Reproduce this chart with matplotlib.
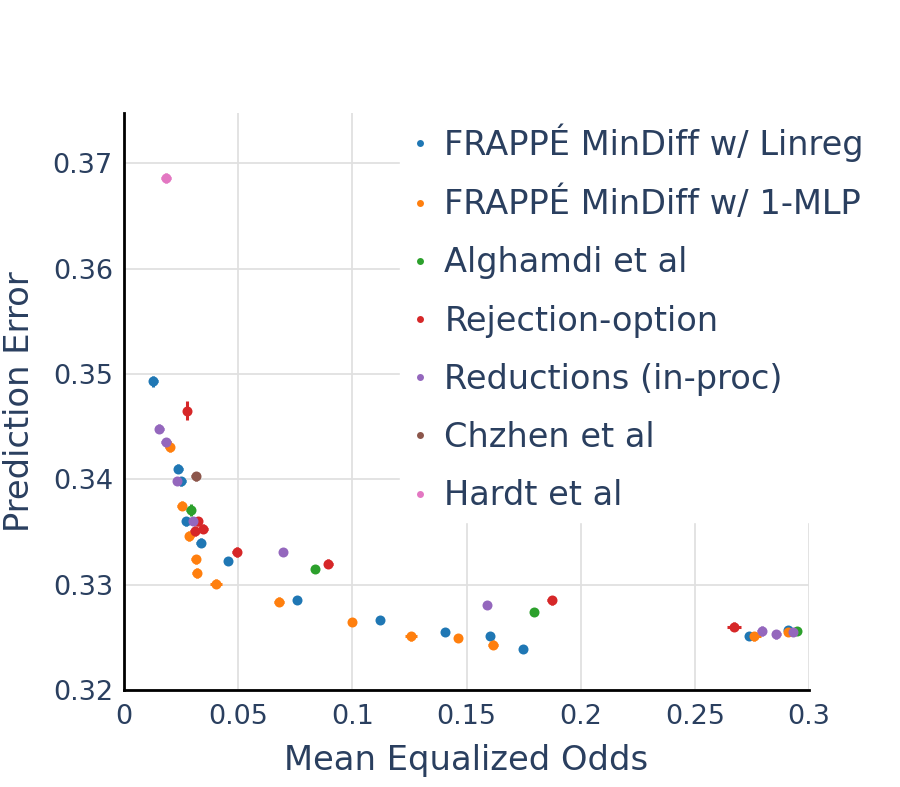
import matplotlib
matplotlib.use("Agg")
import matplotlib.pyplot as plt
from matplotlib.lines import Line2D

# ── Data ──────────────────────────────────────────────────────────────────────
labels = ["FRAPPÉ MinDiff w/ Linreg", "FRAPPÉ MinDiff w/ 1-MLP", "Alghamdi et al",
          "Rejection-option", "Reductions (in-proc)", "Chzhen et al", "Hardt et al"]
colors = ["#1f77b4", "#ff7f0e", "#2ca02c", "#d62728", "#9467bd", "#8c564b", "#e377c2"]

linreg_x = [0.0128, 0.0237, 0.0250, 0.0272, 0.0336, 0.0457, 0.0756, 0.1123, 0.1405,
            0.1603, 0.1749, 0.2739, 0.2910]
linreg_y = [0.3493, 0.3410, 0.3398, 0.3360, 0.3340, 0.3322, 0.3285, 0.3266, 0.3255,
            0.3251, 0.3239, 0.3251, 0.3257]
linreg_xerr = [0.0020, 0.0020, 0.0020, 0.0020, 0.0020, 0, 0, 0, 0, 0, 0, 0, 0]
linreg_yerr = [0.0005, 0.00044, 0.00044, 0.00044, 0.00044, 0, 0, 0, 0, 0, 0, 0, 0]

mlp_x = [0.0201, 0.0253, 0.0286, 0.0315, 0.0318, 0.0402, 0.0679, 0.1000, 0.1257,
         0.1462, 0.1616, 0.2760, 0.2910]
mlp_y = [0.3431, 0.3375, 0.3346, 0.3324, 0.3311, 0.3301, 0.3284, 0.3265, 0.3251,
         0.3249, 0.3243, 0.3251, 0.3255]
mlp_xerr = [0.0020, 0.0020, 0.0020, 0.0020, 0.0019, 0.0026, 0.0020, 0, 0.0027,
            0, 0.0020, 0.0031, 0]
mlp_yerr = [0.0005, 0.00044, 0.0005, 0.00044, 0.00044, 0.00044, 0.00044, 0, 0.00044,
            0, 0.00044, 0.00044, 0]

alg_x = [0.0292, 0.0837, 0.1797, 0.2946]
alg_y = [0.3371, 0.3315, 0.3274, 0.3256]
alg_xerr = [0.0020, 0, 0, 0]
alg_yerr = [0.0006, 0, 0, 0]

rej_x = [0.0275, 0.0322, 0.0311, 0.0347, 0.0494, 0.0895, 0.1873, 0.2673]
rej_y = [0.3465, 0.3360, 0.3351, 0.3353, 0.3331, 0.3320, 0.3285, 0.3260]
rej_xerr = [0, 0.0020, 0.0020, 0.0020, 0.0020, 0.0020, 0.0020, 0.0031]
rej_yerr = [0.0009, 0.00044, 0.00044, 0.00044, 0.00044, 0.00044, 0.00044, 0.00044]

red_x = [0.0155, 0.0184, 0.0234, 0.0304, 0.0695, 0.1589, 0.2793, 0.2856, 0.2930]
red_y = [0.3448, 0.3435, 0.3398, 0.3360, 0.3331, 0.3281, 0.3256, 0.3253, 0.3255]
red_xerr = [0.0020, 0.0020, 0, 0, 0, 0, 0.0020, 0.0020, 0]
red_yerr = [0.00044, 0.00044, 0, 0, 0, 0, 0.00044, 0.00044, 0]

chz_x = [0.0315]
chz_y = [0.3403]
chz_xerr = [0.0020]
chz_yerr = [0.00044]

hardt_x = [0.0184]
hardt_y = [0.3686]
hardt_xerr = [0.0020]
hardt_yerr = [0.00044]

series = [
    (linreg_x, linreg_y, linreg_xerr, linreg_yerr),
    (mlp_x, mlp_y, mlp_xerr, mlp_yerr),
    (alg_x, alg_y, alg_xerr, alg_yerr),
    (rej_x, rej_y, rej_xerr, rej_yerr),
    (red_x, red_y, red_xerr, red_yerr),
    (chz_x, chz_y, chz_xerr, chz_yerr),
    (hardt_x, hardt_y, hardt_xerr, hardt_yerr),
]

TXT = "#2a3f5f"

# ── Figure ────────────────────────────────────────────────────────────────────
fig = plt.figure(figsize=(9, 7.87), dpi=100)
ax = fig.add_axes([124 / 900, 97 / 787, 685 / 900, 577 / 787])

for (xs, ys, xe, ye), c in zip(series, colors):
    ax.errorbar(xs, ys, xerr=xe, yerr=ye, fmt="o", color=c, ms=7.2, mew=0,
                elinewidth=2.2, capsize=3.6, capthick=2.2, zorder=3)

ax.set_xlim(0, 0.3)
ax.set_ylim(0.32, 0.32 + 577 / 10533)
ax.set_xticks([0, 0.05, 0.1, 0.15, 0.2, 0.25, 0.3])
ax.set_xticklabels(["0", "0.05", "0.1", "0.15", "0.2", "0.25", "0.3"])
ax.set_yticks([0.32, 0.33, 0.34, 0.35, 0.36, 0.37])
ax.set_yticklabels(["0.32", "0.33", "0.34", "0.35", "0.36", "0.37"])
ax.tick_params(length=0, labelsize=19.5, labelcolor=TXT)
ax.tick_params(axis="x", pad=10)
ax.tick_params(axis="y", pad=8)
ax.grid(color="#e0e0e0", lw=1.3)
ax.set_axisbelow(True)
for s in ["top", "right"]:
    ax.spines[s].set_visible(False)
for s in ["left", "bottom"]:
    ax.spines[s].set_linewidth(2)
    ax.spines[s].set_color("black")

ax.set_xlabel("Mean Equalized Odds", fontsize=24.3, color=TXT, labelpad=10)
ax.set_ylabel("Prediction Error", fontsize=24.3, color=TXT, labelpad=12)

handles = [Line2D([], [], ls="none", marker="o", ms=5, mew=0, color=c) for c in colors]
leg = ax.legend(handles, labels, loc="upper left",
                bbox_to_anchor=(400 / 900, 1 - 113 / 787), bbox_transform=fig.transFigure,
                fontsize=24.2, labelcolor=TXT, frameon=True, facecolor="white",
                edgecolor="white", framealpha=1, fancybox=False,
                handlelength=0.6, handletextpad=0.42, borderpad=0.3,
                labelspacing=0.75, borderaxespad=0)
leg.set_zorder(5)

fig.savefig("out.png", dpi=100)
